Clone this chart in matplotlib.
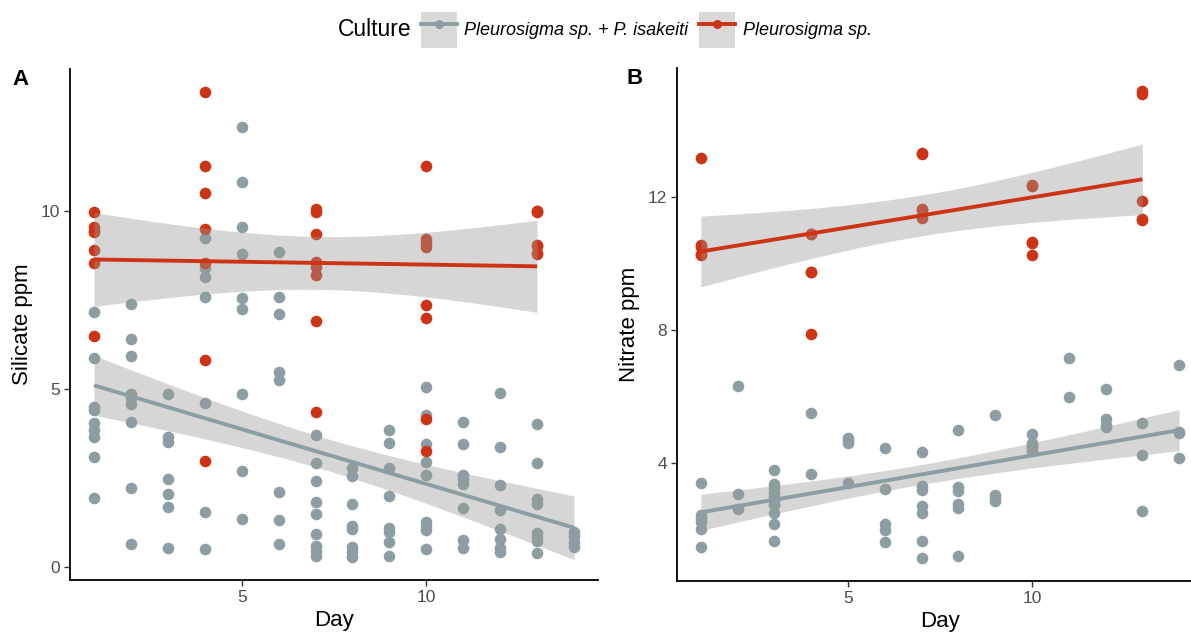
import matplotlib
matplotlib.use("Agg")
import matplotlib.pyplot as plt
import numpy as np
from matplotlib.lines import Line2D
from matplotlib.patches import Patch

plt.rcParams['font.family'] = ['Liberation Sans', 'DejaVu Sans']

GREY = '#8C9EA4'
RED = '#CD3415'
BAND = '#999999'

# ---- Panel A: silicate ----
sil_mix_day = ([1] * 9 + [2] * 9 + [3] * 7 + [4] * 7 + [5] * 9 + [6] * 8 + [7] * 9
               + [8] * 8 + [9] * 8 + [10] * 9 + [11] * 8 + [12] * 8 + [13] * 8 + [14] * 4)
sil_mix_val = [7.17, 5.87, 4.49, 4.41, 4.04, 3.85, 3.66, 3.11, 1.94,
               7.38, 6.42, 5.94, 4.88, 4.75, 4.58, 4.08, 2.22, 0.67,
               4.88, 3.66, 3.52, 2.47, 2.05, 1.70, 0.55,
               9.23, 8.39, 8.14, 7.59, 4.62, 1.57, 0.51,
               12.35, 10.81, 9.56, 8.79, 7.55, 7.25, 4.86, 2.70, 1.36,
               8.84, 7.58, 7.11, 5.47, 5.25, 2.11, 1.34, 0.67,
               3.72, 2.94, 2.43, 1.84, 1.51, 0.95, 0.59, 0.45, 0.32,
               2.80, 2.57, 1.77, 1.16, 1.07, 0.57, 0.43, 0.30,
               3.87, 3.50, 2.80, 2.00, 1.11, 1.00, 0.71, 0.32,
               5.06, 4.29, 3.46, 2.96, 2.58, 1.27, 1.16, 1.05, 0.51,
               4.07, 3.45, 2.58, 2.47, 2.33, 1.67, 0.77, 0.55,
               4.89, 3.39, 2.31, 1.61, 1.08, 0.79, 0.55, 0.44,
               4.02, 2.94, 1.91, 1.77, 0.97, 0.86, 0.74, 0.40,
               1.00, 0.88, 0.72, 0.57]
sil_pl_day = [1] * 7 + [4] * 7 + [7] * 8 + [10] * 8 + [13] * 7
sil_pl_val = [9.96, 9.54, 9.45, 9.40, 8.90, 8.53, 6.50,
              13.33, 11.25, 10.51, 9.50, 8.54, 5.82, 3.00,
              10.06, 9.98, 9.35, 8.56, 8.42, 8.20, 6.90, 4.36,
              11.25, 9.20, 9.10, 9.00, 7.37, 7.00, 4.16, 3.27,
              10.00, 9.99, 9.98, 9.05, 9.03, 8.81, 8.79]

# ---- Panel B: nitrate ----
nit_mix_day = ([1] * 6 + [2] * 3 + [3] * 10 + [4] * 2 + [5] * 4 + [6] * 5 + [7] * 7
               + [8] * 6 + [9] * 4 + [10] * 6 + [11] * 2 + [12] * 4 + [13] * 3 + [14] * 4)
nit_mix_val = [3.40, 2.44, 2.34, 2.23, 2.03, 1.49,
               6.31, 3.07, 2.61,
               3.80, 3.39, 3.26, 3.11, 2.99, 2.86, 2.73, 2.51, 2.17, 1.65,
               5.50, 3.69,
               4.76, 4.68, 4.61, 3.41,
               4.45, 3.23, 2.16, 1.98, 1.62,
               4.35, 3.33, 3.19, 2.71, 2.50, 1.65, 1.16,
               4.99, 3.29, 3.16, 2.76, 2.66, 1.21,
               5.44, 3.04, 2.94, 2.85,
               4.88, 4.61, 4.55, 4.51, 4.45, 4.38,
               7.17, 6.00,
               6.23, 5.34, 5.15, 5.09,
               5.21, 4.26, 2.56,
               6.95, 4.93, 4.90, 4.15]
nit_pl_day = [1] * 5 + [4] * 5 + [7] * 5 + [10] * 5 + [13] * 5
nit_pl_val = [13.17, 10.55, 10.50, 10.30, 10.26,
              10.90, 10.89, 9.76, 9.74, 7.88,
              13.30, 13.32, 11.63, 11.60, 11.38,
              12.36, 12.34, 10.64, 10.62, 10.25,
              15.18, 15.11, 11.87, 11.35, 11.31]

legend_labels = ['Pleurosigma sp. + P. isakeiti', 'Pleurosigma sp.']


def t975(df):
    z = 1.959964
    return z + (z**3 + z) / (4 * df) + (5 * z**5 + 16 * z**3 + 3 * z) / (96 * df**2)


def smooth(ax, x, y, color):
    x = np.asarray(x, float)
    y = np.asarray(y, float)
    n = len(x)
    b, a = np.polyfit(x, y, 1)
    resid = y - (a + b * x)
    s = np.sqrt(np.sum(resid**2) / (n - 2))
    xs = np.linspace(x.min(), x.max(), 80)
    fit = a + b * xs
    se = s * np.sqrt(1 / n + (xs - x.mean())**2 / np.sum((x - x.mean())**2))
    t = t975(n - 2)
    ax.fill_between(xs, fit - t * se, fit + t * se, color=BAND, alpha=0.4,
                    linewidth=0, zorder=3)
    ax.plot(xs, fit, color=color, lw=2.8, zorder=4, solid_capstyle='butt')


def panel(ax, mix_d, mix_v, pl_d, pl_v, ylabel, yticks, letter):
    ax.scatter(mix_d, mix_v, s=70, color=GREY, linewidths=0, zorder=2)
    ax.scatter(pl_d, pl_v, s=70, color=RED, linewidths=0, zorder=2)
    smooth(ax, pl_d, pl_v, RED)
    smooth(ax, mix_d, mix_v, GREY)
    alld = np.array(mix_d + pl_d, float)
    allv = np.array(mix_v + pl_v, float)
    dx = 0.05 * (alld.max() - alld.min())
    dy = 0.05 * (allv.max() - allv.min())
    ax.set_xlim(alld.min() - dx, alld.max() + dx)
    ax.set_ylim(allv.min() - dy, allv.max() + dy)
    ax.set_xticks([5, 10])
    ax.set_yticks(yticks)
    for side in ['top', 'right']:
        ax.spines[side].set_visible(False)
    for side in ['left', 'bottom']:
        ax.spines[side].set_linewidth(1.3)
    ax.tick_params(length=4, width=1.0, color='#333333', labelcolor='#4D4D4D',
                   labelsize=12.5, pad=3)
    ax.set_xlabel('Day', fontsize=16, labelpad=4)
    ax.set_ylabel(ylabel, fontsize=16, labelpad=6)
    ax.text(-0.11, 1.0, letter, transform=ax.transAxes, fontsize=16,
            fontweight='bold', va='top', ha='left')


fig = plt.figure(figsize=(11.91, 6.35), dpi=100)
axA = fig.add_axes([0.0588, 0.0866, 0.4433, 0.8047])
axB = fig.add_axes([0.5684, 0.0850, 0.4417, 0.8080])

panel(axA, sil_mix_day, sil_mix_val, sil_pl_day, sil_pl_val, 'Silicate ppm', [0, 5, 10], 'A')
panel(axB, nit_mix_day, nit_mix_val, nit_pl_day, nit_pl_val, 'Nitrate ppm', [4, 8, 12], 'B')
axB.texts[0].set_x(-0.095)

handles = [(Patch(facecolor='#D9D9D9', edgecolor='none'),
            Line2D([], [], color=c, lw=2.8, marker='o', markersize=6.5, markeredgewidth=0))
           for c in (GREY, RED)]
fig.text(0.2838, 0.9528, 'Culture', fontsize=16.5, va='center', ha='left')
fig.legend(handles, legend_labels, loc='center left', bbox_to_anchor=(0.3535, 0.9528),
           ncol=2, frameon=False, handlelength=1.99, handleheight=2.69,
           handletextpad=0.4, columnspacing=0.62, borderpad=0, borderaxespad=0,
           prop={'style': 'italic', 'size': 13})

fig.savefig('out.png', dpi=100)
